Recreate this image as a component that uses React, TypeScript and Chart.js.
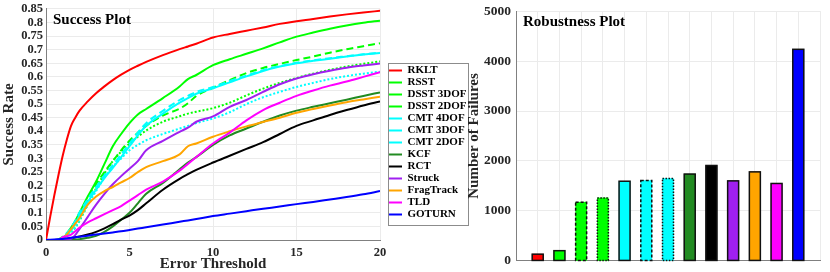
import React, { useEffect, useRef } from 'react';
import { Chart, registerables } from 'chart.js';

Chart.register(...registerables);

// ---------- data ----------
const THRESHOLDS = [0, 0.25, 0.5, 0.75, 1, 1.25, 1.5, 1.75, 2, 2.5, 3, 3.5, 4, 4.5, 5, 5.5, 6, 7, 8, 8.5, 9, 10, 11, 12, 13, 14, 15, 16, 17, 18, 19, 20];

const RKLT = [0, 0.085, 0.165, 0.24, 0.31, 0.37, 0.42, 0.45, 0.475, 0.51, 0.54, 0.565, 0.588, 0.608, 0.626, 0.641, 0.655, 0.68, 0.702, 0.712, 0.722, 0.745, 0.758, 0.77, 0.782, 0.795, 0.805, 0.813, 0.822, 0.83, 0.837, 0.843];
const RSST = [0, 0, 0, 0, 0.008, 0.02, 0.045, 0.07, 0.1, 0.16, 0.215, 0.28, 0.345, 0.39, 0.43, 0.462, 0.482, 0.522, 0.565, 0.592, 0.607, 0.643, 0.665, 0.685, 0.705, 0.727, 0.748, 0.763, 0.777, 0.789, 0.799, 0.807];
const DSST_3DOF = [0, 0, 0, 0.003, 0.012, 0.025, 0.045, 0.068, 0.095, 0.15, 0.205, 0.25, 0.29, 0.33, 0.365, 0.395, 0.42, 0.458, 0.483, 0.503, 0.53, 0.56, 0.588, 0.614, 0.633, 0.648, 0.662, 0.675, 0.689, 0.702, 0.713, 0.724];
const DSST_2DOF = [0, 0, 0, 0, 0.005, 0.012, 0.025, 0.045, 0.07, 0.13, 0.19, 0.245, 0.29, 0.325, 0.355, 0.38, 0.403, 0.435, 0.455, 0.465, 0.472, 0.485, 0.505, 0.532, 0.557, 0.578, 0.596, 0.612, 0.626, 0.638, 0.648, 0.657];
const CMT_4DOF = [0, 0, 0, 0, 0.008, 0.02, 0.035, 0.06, 0.09, 0.14, 0.185, 0.228, 0.265, 0.305, 0.345, 0.385, 0.42, 0.465, 0.505, 0.522, 0.538, 0.558, 0.58, 0.602, 0.622, 0.638, 0.65, 0.659, 0.667, 0.675, 0.682, 0.688];
const CMT_3DOF = [0, 0, 0, 0, 0.01, 0.025, 0.045, 0.07, 0.1, 0.15, 0.195, 0.238, 0.275, 0.315, 0.355, 0.395, 0.43, 0.475, 0.515, 0.53, 0.545, 0.563, 0.585, 0.605, 0.625, 0.64, 0.652, 0.661, 0.669, 0.676, 0.683, 0.689];
const CMT_2DOF = [0, 0, 0, 0, 0.005, 0.012, 0.025, 0.045, 0.072, 0.13, 0.18, 0.23, 0.27, 0.3, 0.33, 0.35, 0.367, 0.39, 0.41, 0.42, 0.43, 0.447, 0.47, 0.5, 0.525, 0.545, 0.563, 0.578, 0.592, 0.603, 0.612, 0.619];
const KCF = [0, 0, 0, 0, 0, 0, 0.001, 0.002, 0.003, 0.008, 0.015, 0.03, 0.05, 0.075, 0.1, 0.135, 0.17, 0.21, 0.26, 0.285, 0.305, 0.35, 0.385, 0.41, 0.435, 0.458, 0.476, 0.49, 0.503, 0.516, 0.53, 0.543];
const RCT = [0, 0, 0, 0, 0.002, 0.004, 0.007, 0.01, 0.013, 0.02, 0.03, 0.043, 0.058, 0.075, 0.09, 0.11, 0.135, 0.185, 0.225, 0.242, 0.258, 0.285, 0.31, 0.335, 0.36, 0.39, 0.42, 0.44, 0.46, 0.478, 0.495, 0.51];
const STRUCK = [0, 0, 0, 0, 0, 0, 0.004, 0.018, 0.04, 0.085, 0.13, 0.17, 0.205, 0.235, 0.262, 0.29, 0.33, 0.365, 0.398, 0.413, 0.435, 0.455, 0.49, 0.515, 0.545, 0.573, 0.594, 0.61, 0.623, 0.634, 0.642, 0.649];
const FRAGTRACK = [0, 0, 0, 0, 0.008, 0.02, 0.04, 0.06, 0.08, 0.13, 0.16, 0.18, 0.195, 0.212, 0.228, 0.25, 0.268, 0.29, 0.315, 0.345, 0.355, 0.38, 0.4, 0.418, 0.434, 0.45, 0.468, 0.482, 0.495, 0.507, 0.517, 0.527];
const TLD = [0, 0, 0, 0, 0.01, 0.014, 0.02, 0.032, 0.045, 0.065, 0.08, 0.095, 0.11, 0.125, 0.145, 0.165, 0.185, 0.215, 0.255, 0.28, 0.305, 0.355, 0.395, 0.44, 0.478, 0.505, 0.53, 0.55, 0.568, 0.583, 0.6, 0.617];
const GOTURN = [0, 0.001, 0.002, 0.003, 0.004, 0.006, 0.008, 0.01, 0.012, 0.016, 0.02, 0.024, 0.028, 0.032, 0.037, 0.042, 0.047, 0.057, 0.067, 0.072, 0.077, 0.088, 0.097, 0.106, 0.115, 0.123, 0.132, 0.14, 0.149, 0.158, 0.168, 0.18];

const TRACKERS = ['RKLT', 'RSST', 'DSST 3DOF', 'DSST 2DOF', 'CMT 4DOF', 'CMT 3DOF', 'CMT 2DOF', 'KCF', 'RCT', 'Struck', 'FragTrack', 'TLD', 'GOTURN'];
const SUCCESS_SERIES = [RKLT, RSST, DSST_3DOF, DSST_2DOF, CMT_4DOF, CMT_3DOF, CMT_2DOF, KCF, RCT, STRUCK, FRAGTRACK, TLD, GOTURN];
const FAILURES = [135, 205, 1175, 1260, 1595, 1608, 1648, 1738, 1910, 1602, 1782, 1550, 4235];

// ---------- styles ----------
const COLORS = ['#ff0000', '#00ff00', '#00ff00', '#00ff00', '#00ffff', '#00ffff', '#00ffff', '#228b22', '#000000', '#a020f0', '#ffa500', '#ff00ff', '#0000ff'];
const LINE_DASH = [[], [], [7, 4], [2, 2], [], [7, 4], [2, 2], [], [], [], [], [], []];
const BAR_DASH = [[], [], [3, 2], [1.5, 1.5], [], [3, 2], [1.5, 1.5], [], [], [], [], [], []];

const FONT = "'Liberation Serif', 'Times New Roman', serif";
const TXT = '#262626';
const GRID = '#ebebeb';
const AXIS = '#808080';

const plotTitle = (id: string, text: string) => ({
  id,
  afterDraw(chart: any) {
    const { ctx, chartArea } = chart;
    ctx.save();
    ctx.font = `bold 15px ${FONT}`;
    ctx.fillStyle = '#000';
    ctx.textBaseline = 'middle';
    ctx.textAlign = 'left';
    ctx.fillText(text, chartArea.left + 7, chartArea.top + 11);
    ctx.restore();
  },
});

const legendBox = {
  id: 'legendBox',
  afterDraw(chart: any) {
    const lg = chart.legend;
    if (!lg || !lg.legendHitBoxes || !lg.legendHitBoxes.length) return;
    let l = Infinity, t = Infinity, r = -Infinity, b = -Infinity;
    lg.legendHitBoxes.forEach((h: any) => {
      l = Math.min(l, h.left);
      t = Math.min(t, h.top);
      r = Math.max(r, h.left + h.width);
      b = Math.max(b, h.top + h.height);
    });
    const { ctx } = chart;
    ctx.save();
    ctx.strokeStyle = '#8c8c8c';
    ctx.lineWidth = 1;
    const x0 = Math.round(l - 1) + 0.5;
    const y0 = Math.round(t - 2) + 0.5;
    const x1 = Math.round(r + 2) + 0.5;
    const y1 = Math.round(b + 5) + 0.5;
    ctx.strokeRect(x0, y0, x1 - x0, y1 - y0);
    ctx.restore();
  },
};

const barEdges = {
  id: 'barEdges',
  afterDatasetsDraw(chart: any) {
    const { ctx } = chart;
    const meta = chart.getDatasetMeta(0);
    meta.data.forEach((bar: any, i: number) => {
      const { x, y, base, width } = bar.getProps(['x', 'y', 'base', 'width'], true);
      ctx.save();
      ctx.setLineDash(BAR_DASH[i] || []);
      ctx.lineWidth = 1.5;
      ctx.strokeStyle = '#111111';
      ctx.strokeRect(x - width / 2, y, width, base - y);
      ctx.restore();
    });
  },
};

function SuccessChart() {
  const ref = useRef<HTMLCanvasElement>(null);
  useEffect(() => {
    const datasets = SUCCESS_SERIES.map((series, k) => ({
      label: TRACKERS[k],
      data: THRESHOLDS.map((x, i) => ({ x, y: series[i] })),
      borderColor: COLORS[k],
      backgroundColor: COLORS[k],
      borderWidth: 2,
      borderDash: LINE_DASH[k],
      pointRadius: 0,
      cubicInterpolationMode: 'monotone' as const,
      fill: false,
      order: SUCCESS_SERIES.length - k,
    }));
    const chart = new Chart(ref.current!, {
      type: 'line',
      data: { datasets },
      plugins: [plotTitle('t1', 'Success Plot'), legendBox],
      options: {
        animation: false,
        responsive: false,
        layout: { padding: { top: 6, left: 0, right: 0, bottom: 0 } },
        plugins: {
          tooltip: { enabled: false },
          legend: {
            position: 'right',
            align: 'start',
            maxWidth: 85,
            title: { display: true, text: '', font: { size: 10, lineHeight: 1 }, padding: { top: 48, bottom: 0 } },
            labels: {
              usePointStyle: true,
              pointStyle: 'line',
              pointStyleWidth: 13,
              padding: 1,
              color: '#000',
              font: { family: FONT, weight: 'bold', size: 11 },
              sort: (a: any, b: any) => a.datasetIndex - b.datasetIndex,
            },
          },
        },
        scales: {
          x: {
            type: 'linear',
            min: 0,
            max: 20,
            ticks: { stepSize: 5, color: TXT, padding: 6.5, font: { family: FONT, weight: 'bold', size: 12.5, lineHeight: 0.95 } },
            grid: { color: GRID, drawTicks: false },
            border: { color: AXIS },
            title: { display: true, text: 'Error Threshold', color: TXT, padding: { top: 0, bottom: 0 }, font: { family: FONT, weight: 'bold', size: 15, lineHeight: 1 } },
            afterFit: (s: any) => { s.height = 32; },
          },
          y: {
            type: 'linear',
            min: 0,
            max: 0.85,
            ticks: {
              stepSize: 0.05,
              autoSkip: false,
              color: TXT,
              padding: 3,
              font: { family: FONT, weight: 'bold', size: 12.5, lineHeight: 0.95 },
              callback: (v: any) => String(Math.round(Number(v) * 100) / 100),
            },
            grid: { color: GRID, drawTicks: false },
            border: { color: AXIS },
            title: { display: true, text: 'Success Rate', color: TXT, padding: { top: 1.5, bottom: 0 }, font: { family: FONT, weight: 'bold', size: 15, lineHeight: 1 } },
            afterFit: (s: any) => { s.width = 46; },
          },
          gap: {
            type: 'linear',
            position: 'right',
            display: true,
            grid: { display: false },
            ticks: { display: false },
            border: { display: false },
            afterFit: (s: any) => { s.width = 8; },
          },
        },
      } as any,
    });
    return () => chart.destroy();
  }, []);
  return <canvas ref={ref} width={473} height={272} style={{ display: 'block' }} />;
}

function RobustnessChart() {
  const ref = useRef<HTMLCanvasElement>(null);
  useEffect(() => {
    const chart = new Chart(ref.current!, {
      type: 'bar',
      data: {
        datasets: [
          {
            label: 'Number of Failures',
            data: FAILURES.map((v, i) => ({ x: i + 1, y: v })),
            backgroundColor: COLORS,
            borderWidth: 0,
            barThickness: 11,
          },
        ],
      },
      plugins: [plotTitle('t2', 'Robustness Plot'), barEdges],
      options: {
        animation: false,
        responsive: false,
        layout: { padding: { top: 6, left: 0, right: 10, bottom: 0 } },
        plugins: { legend: { display: false }, tooltip: { enabled: false } },
        scales: {
          x: {
            type: 'linear',
            min: 0,
            max: 14,
            offset: false,
            ticks: { stepSize: 1, display: false },
            grid: { color: GRID, drawTicks: false, offset: false },
            border: { color: AXIS },
            afterFit: (s: any) => { s.height = 8; },
          },
          y: {
            type: 'linear',
            min: 0,
            max: 5000,
            ticks: {
              stepSize: 1000,
              autoSkip: false,
              color: TXT,
              padding: 5,
              font: { family: FONT, weight: 'bold', size: 13.5, lineHeight: 0.9 },
              callback: (v: any) => String(Math.round(Number(v))),
            },
            grid: { color: GRID, drawTicks: false },
            border: { color: AXIS },
            title: { display: true, text: 'Number of Failures', color: TXT, padding: { top: 3.5, bottom: 0 }, font: { family: FONT, weight: 'bold', size: 15, lineHeight: 1 } },
            afterFit: (s: any) => { s.width = 53; },
          },
        },
      } as any,
    });
    return () => chart.destroy();
  }, []);
  return <canvas ref={ref} width={367} height={272} style={{ display: 'block' }} />;
}

export default function App() {
  return (
    <div style={{ position: 'absolute', left: 0, top: 0, width: 830, height: 272, background: '#fff', overflow: 'hidden' }}>
      <div style={{ position: 'absolute', left: 0, top: 0, width: 473, height: 272 }}>
        <SuccessChart />
      </div>
      <div style={{ position: 'absolute', left: 463, top: 0, width: 367, height: 272 }}>
        <RobustnessChart />
      </div>
    </div>
  );
}
